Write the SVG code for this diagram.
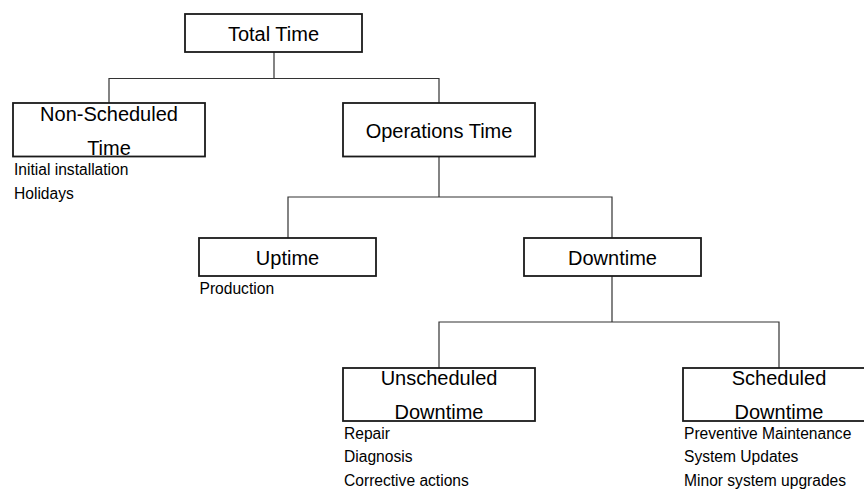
<svg xmlns="http://www.w3.org/2000/svg" width="864" height="489" viewBox="0 0 864 489">
  <style>
    .box { fill: #ffffff; stroke: #1a1a1a; stroke-width: 1.8; }
    .link { fill: none; stroke: #333333; stroke-width: 1.2; }
    .title { font-family: "Liberation Sans", Arial, sans-serif; font-size: 20px; fill: #000000; text-anchor: middle; }
    .note { font-family: "Liberation Sans", Arial, sans-serif; font-size: 15.6px; fill: #000000; }
  </style>
  <rect width="864" height="489" fill="#ffffff"/>

  <!-- tree connectors -->
  <g id="connectors">
    <path class="link" d="M274 52 V78.5 M109 103 V78.5 H439 V103"/>
    <path class="link" d="M439 157 V197 M288 238 V197 H612 V238"/>
    <path class="link" d="M612 276 V322 M439 368 V322 H779 V368"/>
  </g>

  <g id="total-time">
    <rect class="box" x="185" y="14" width="177" height="38"/>
    <text class="title" x="273.5" y="41">Total Time</text>
  </g>

  <g id="non-scheduled-time">
    <rect class="box" x="13" y="103" width="192" height="53.5"/>
    <text class="title" x="109" y="120.5">Non-Scheduled</text>
    <text class="title" x="109" y="154.5">Time</text>
    <text class="note" x="14" y="175">Initial installation</text>
    <text class="note" x="14" y="198.5">Holidays</text>
  </g>

  <g id="operations-time">
    <rect class="box" x="343" y="103" width="192" height="53.5"/>
    <text class="title" x="439" y="137.5">Operations Time</text>
  </g>

  <g id="uptime">
    <rect class="box" x="199" y="238" width="177" height="38"/>
    <text class="title" x="287.5" y="264.5">Uptime</text>
    <text class="note" x="199.5" y="293.5">Production</text>
  </g>

  <g id="downtime">
    <rect class="box" x="524" y="238" width="177" height="38"/>
    <text class="title" x="612.5" y="264.5">Downtime</text>
  </g>

  <g id="unscheduled-downtime">
    <rect class="box" x="343" y="368" width="192" height="53"/>
    <text class="title" x="439" y="385">Unscheduled</text>
    <text class="title" x="439" y="419">Downtime</text>
    <text class="note" x="344" y="438.5">Repair</text>
    <text class="note" x="344" y="462">Diagnosis</text>
    <text class="note" x="344" y="485.5">Corrective actions</text>
  </g>

  <g id="scheduled-downtime">
    <rect class="box" x="683" y="368" width="192" height="53"/>
    <text class="title" x="779" y="385">Scheduled</text>
    <text class="title" x="779" y="419">Downtime</text>
    <text class="note" x="684" y="438.5">Preventive Maintenance</text>
    <text class="note" x="684" y="462">System Updates</text>
    <text class="note" x="684" y="485.5">Minor system upgrades</text>
  </g>
</svg>
